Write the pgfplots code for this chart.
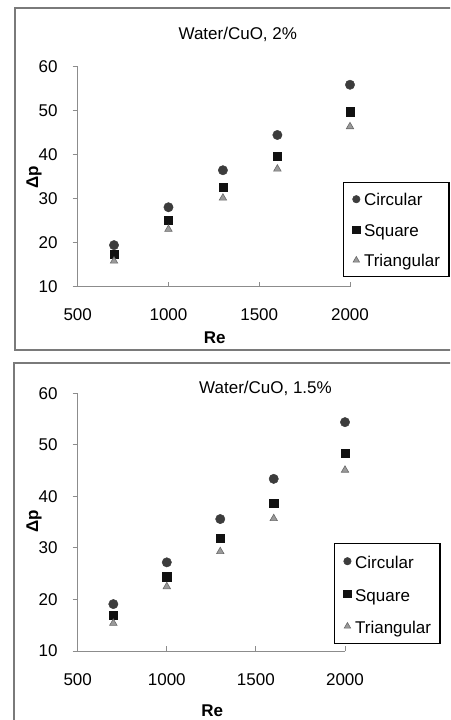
\documentclass[border=0pt]{standalone}
\usepackage{fontspec}
\setmainfont{Liberation Sans}
\usepackage{pgfplots}
\pgfplotsset{compat=1.18}

\definecolor{circ}{HTML}{3C3C3C}
\definecolor{sqr}{HTML}{111111}
\definecolor{tri}{HTML}{9A9A9A}
\definecolor{triedge}{HTML}{6A6A6A}
\definecolor{framegray}{HTML}{7A7A7A}
\definecolor{axisgray}{HTML}{8C8C8C}

\newcommand{\fs}{\fontsize{17}{20}\selectfont}

\pgfplotsset{
  panel/.style={
    scale only axis,
    xmin=500, xmax=2000, ymin=10, ymax=60,
    xtick={500,1000,1500,2000}, ytick={10,20,30,40,50,60},
    axis x line*=bottom, axis y line*=left,
    axis line style={axisgray, line width=1pt},
    major tick style={axisgray, line width=1pt},
    major tick length=5pt,
    xtick align=inside, ytick align=outside,
    /pgf/number format/assume math mode=true,
    /pgf/number format/1000 sep={},
    tick label style={font=\fs},
    yticklabel style={anchor=east, inner sep=0pt, xshift=-15pt},
    legend cell align=left,
    legend image code/.code={%
      \draw[#1, mark repeat=2, mark phase=2] plot coordinates {(-4pt,0pt) (0pt,0pt) (4pt,0pt)};},
    legend image post style={line width=0.6pt, mark size=3.7pt},
  },
  circ/.style={only marks, mark=*, mark size=4.7pt, mark options={draw=circ, fill=circ}},
  sqr/.style={only marks, mark=square*, mark size=4.2pt, mark options={draw=sqr, fill=sqr}},
  tri/.style={only marks, mark=triangle*, mark size=4.3pt, mark options={draw=triedge, fill=tri, line width=0.6pt}},
}

\begin{document}
\begin{tikzpicture}
\useasboundingbox (0pt,0pt) rectangle (450pt,720pt);
\clip (0pt,0pt) rectangle (450pt,720pt);

% ---- panel frames ----
\draw[framegray, line width=1.8pt] (470pt,370pt) -- (15pt,370pt) -- (15pt,712pt) -- (470pt,712pt);
\draw[framegray, line width=1.8pt] (470pt,357pt) -- (14pt,357pt) -- (14pt,-20pt);

% ---- Water/CuO, 2% ----
\begin{axis}[panel,
  at={(77.7pt,433pt)}, anchor=south west,
  width=272.3pt, height=220.3pt,
  xticklabel style={anchor=center, inner sep=0pt, yshift=-28pt},
  legend style={at={(0.974,0.4766)}, anchor=north west, font=\fs,
    draw=black, line width=1.4pt, inner xsep=9pt, inner ysep=5pt,
    row sep=7.5pt, nodes={inner sep=0pt, text height=18pt, text depth=5pt},
    /tikz/every odd column/.style={column sep=4pt}},
]
\addplot[circ] coordinates {(700,19.5) (1000,28.1) (1300,36.5) (1600,44.5) (2000,55.9)};
\addlegendentry{Circular}
\addplot[sqr] coordinates {(700,17.5) (1000,25.2) (1300,32.7) (1600,39.7) (2000,49.8)};
\addlegendentry{Square}
\addplot[tri] coordinates {(700,15.9) (1000,23.1) (1300,30.2) (1600,36.8) (2000,46.4)};
\addlegendentry{Triangular\hspace{6pt}}
\end{axis}
\node[font=\fs, anchor=base] at (237.8pt,680.7pt) {Water/CuO, 2\%};
\node[font=\fs\bfseries, anchor=base] at (214.7pt,376pt) {Re};
\node[font=\fs\bfseries, rotate=90, anchor=center] at (34pt,543pt) {Δp};

% ---- Water/CuO, 1.5% ----
\begin{axis}[panel,
  at={(77.7pt,69pt)}, anchor=south west,
  width=267.3pt, height=257.7pt,
  xticklabel style={anchor=center, inner sep=0pt, yshift=-29pt},
  legend style={at={(0.959,0.419)}, anchor=north west, font=\fs,
    draw=black, line width=1.4pt, inner xsep=9pt, inner ysep=5pt,
    row sep=7.5pt, nodes={inner sep=0pt, text height=20pt, text depth=5pt},
    /tikz/every odd column/.style={column sep=4pt}},
]
\addplot[circ] coordinates {(700,19.1) (1000,27.2) (1300,35.6) (1600,43.4) (2000,54.4)};
\addlegendentry{Circular}
\addplot[sqr] coordinates {(700,16.9) (1000,24.4) (1300,31.9) (1600,38.7) (2000,48.4)};
\addlegendentry{Square}
\addplot[tri] coordinates {(700,15.4) (1000,22.5) (1300,29.3) (1600,35.7) (2000,45.1)};
\addlegendentry{Triangular\hspace{6pt}}
\end{axis}
\node[font=\fs, anchor=base] at (265.5pt,326.7pt) {Water/CuO, 1.5\%};
\node[font=\fs\bfseries, anchor=base] at (212.3pt,3.3pt) {Re};
\node[font=\fs\bfseries, rotate=90, anchor=center] at (34pt,199pt) {Δp};
\end{tikzpicture}
\end{document}
